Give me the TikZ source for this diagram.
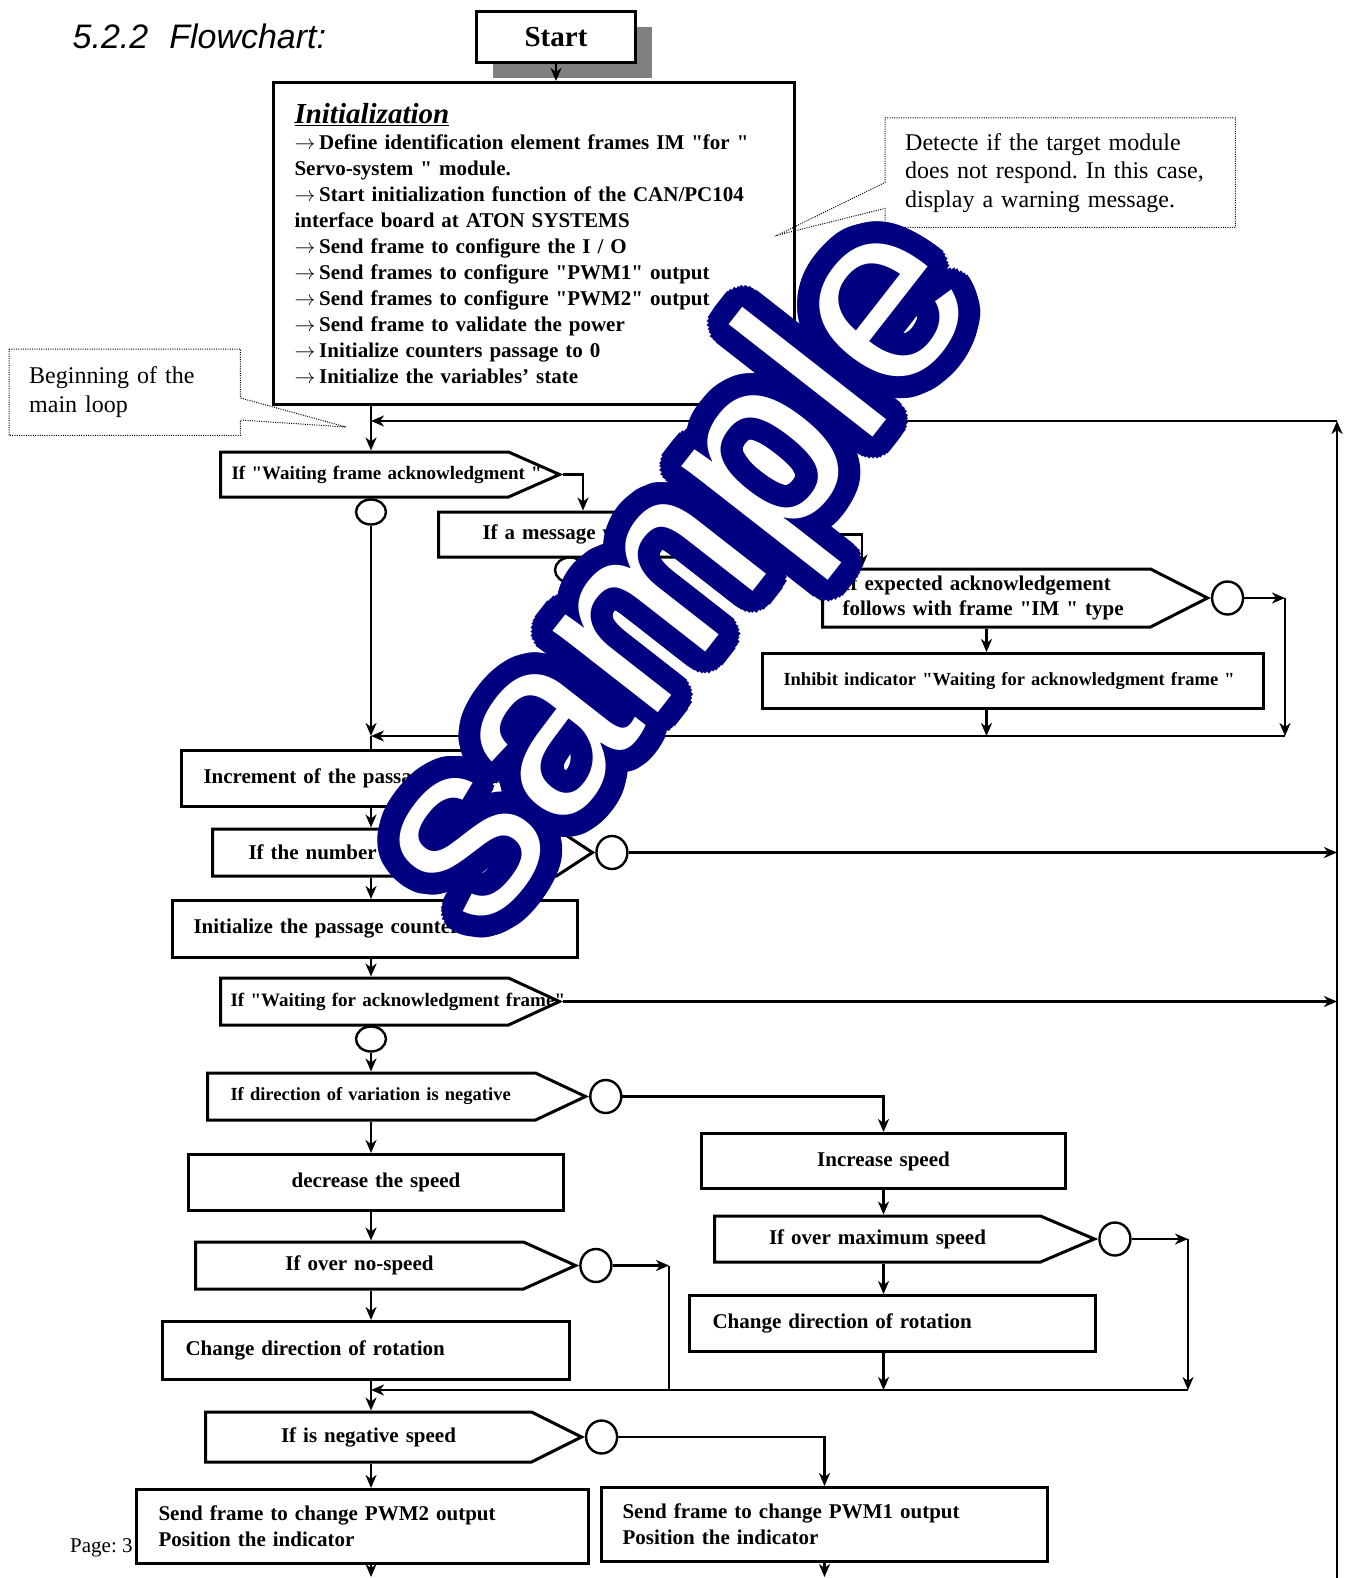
\documentclass[tikz,border=0pt]{standalone}
\usepackage{fontspec}
\setmainfont{Liberation Serif}[Ligatures=TeXOff]
\newfontfamily\headfont{Liberation Sans}
\usetikzlibrary{arrows.meta,positioning,shapes.geometric,shapes.symbols,shadows}
\frenchspacing

\definecolor{shadowgray}{RGB}{128,128,128}
\definecolor{marknavy}{RGB}{0,0,128}
\newcommand{\fs}[2]{\fontsize{#1}{#2}\selectfont}
\newcommand{\itemarrow}{$\rightarrow$\hspace{4pt}}

\begin{document}
\begin{tikzpicture}[
    x=1pt, y=-1pt,
    box/.style={draw, line width=3pt, fill=white, inner ysep=2pt, align=left, anchor=north west, font=\bfseries\fs{21}{26}},
    decision/.style={signal, signal to=east, draw, line width=3pt, fill=white, inner ysep=2pt, align=left, anchor=west, font=\bfseries\fs{21}{25}},
    knot/.style={ellipse, draw, line width=2.4pt, fill=white, inner sep=0pt, minimum width=30pt, minimum height=25pt},
    tipknot/.style={knot, minimum width=31pt, minimum height=33pt, anchor=west},
    note/.style={align=left, inner xsep=20pt, inner ysep=0pt, anchor=north west, font=\fs{24}{28.5}},
    notebox/.style={line width=1pt, dash pattern=on 1pt off 1.3pt},
    flow/.style={-{Stealth[length=13pt, width=11pt, inset=4pt]}, line width=2.4pt},
    plainline/.style={line width=2.4pt},
    stamp/.style={rotate=52, inner sep=0pt, font=\headfont\fs{252}{252}}
]
\useasboundingbox (0,0) rectangle (1347,1578);

\node[anchor=base west, inner sep=0pt, font=\headfont\itshape\fs{34}{40}] (title) at (72.5,48.3) {5.2.2\hspace{21pt}Flowchart:};

% start and initialization
\node[box, align=center, minimum width=159pt, minimum height=51pt, font=\bfseries\fs{29}{32},
      drop shadow={shadow xshift=16pt, shadow yshift=-16pt, fill=shadowgray, opacity=1}] (start) at (475,10) {Start};
\node[box, text width=479pt, inner xsep=21pt, minimum height=322pt] (init) at (272,81) {%
{\fs{29}{30}\bfseries\itshape\underline{Initialization}}\\
\itemarrow Define identification element frames IM "for "\\
Servo-system " module.\\
\itemarrow Start initialization function of the CAN/PC104\\
interface board at ATON SYSTEMS\\
\itemarrow Send frame to configure the I / O\\
\itemarrow Send frames to configure "PWM1" output\\
\itemarrow Send frames to configure "PWM2" output\\
\itemarrow Send frame to validate the power\\
\itemarrow Initialize counters passage to 0\\
\itemarrow Initialize the variables’ state};

% acknowledgment part of the loop
\node[decision, signal pointer angle=47.6, text width=266pt, inner xsep=11pt, minimum height=45pt, font=\bfseries\fs{19}{23}] (waitframe) at (219,474.5) {\mbox{If "Waiting frame acknowledgment "}};
\node[decision, signal pointer angle=53.1, text width=208pt, inner xsep=44pt, minimum height=45pt] (msg) at (437,534.5) {\mbox{If a message was received}};
\node[decision, signal pointer angle=53.9, text width=288pt, inner xsep=20pt, minimum height=58pt] (ackim) at (821,598) {If expected acknowledgement\\follows with frame "IM " type};
\node[box, text width=459pt, inner xsep=21pt, minimum height=55pt, font=\bfseries\fs{18.5}{22}] (inhibit) at (761,652) {Inhibit indicator "Waiting for acknowledgment frame "};
\node[knot] (o1) at (371,512) {};
\node[knot] (o2) at (570,570) {};
\node[tipknot] (o3) at (ackim.east) {};

% passage counter
\node[box, text width=337pt, inner xsep=22pt, minimum height=56pt] (incr) at (180,749) {Increment of the passage counter};
\node[decision, signal pointer angle=66.3, text width=272pt, inner xsep=36pt, minimum height=47pt] (reached) at (211,852.5) {If the number is reached};
\node[tipknot] (o4) at (reached.east) {};
\node[box, text width=363pt, inner xsep=21pt, minimum height=57pt] (reset) at (171,899) {Initialize the passage counter to 0};
\node[decision, signal pointer angle=49.5, text width=268pt, inner xsep=10pt, minimum height=47pt, font=\bfseries\fs{19}{23}] (waitack) at (219,1001.5) {\mbox{If "Waiting for acknowledgment frame"}};
\node[knot] (o5) at (371,1039) {};

% speed variation
\node[decision, signal pointer angle=50.3, text width=282pt, inner xsep=23pt, minimum height=47pt, font=\bfseries\fs{18.5}{22}] (negdir) at (206,1096.5) {If direction of variation is negative};
\node[tipknot] (o6) at (negdir.east) {};
\node[box, align=center, text width=355pt, inner xsep=10pt, minimum height=56pt] (decspeed) at (187,1153) {decrease the speed};
\node[decision, align=center, signal pointer angle=48.6, text width=308pt, inner xsep=10pt, minimum height=47pt] (nospeed) at (194,1265.5) {If over no-speed};
\node[tipknot] (o7) at (nospeed.east) {};
\node[box, text width=361pt, inner xsep=23pt, minimum height=58pt] (chleft) at (161,1320) {Change direction of rotation};
\node[box, align=center, text width=344pt, inner xsep=10pt, minimum height=55pt] (incspeed) at (700,1132) {Increase speed};
\node[decision, align=center, signal pointer angle=46.2, text width=306pt, inner xsep=10pt, minimum height=46pt] (maxspeed) at (713,1239) {If over maximum speed};
\node[tipknot] (o8) at (maxspeed.east) {};
\node[box, text width=360pt, inner xsep=23pt, minimum height=56pt] (chright) at (688,1294) {Change direction of rotation};

% outputs
\node[decision, align=center, signal pointer angle=53.1, text width=306pt, inner xsep=10pt, minimum height=50pt] (negspeed) at (204,1437) {If is negative speed};
\node[tipknot] (o9) at (negspeed.east) {};
\node[anchor=base west, inner sep=0pt, font=\fs{21}{25}] (page) at (70,1552) {Page: 3};
\node[box, text width=408pt, inner xsep=22pt, minimum height=74pt] (pwmtwo) at (135,1488) {Send frame to change PWM2 output\\Position the indicator};
\node[box, text width=404pt, inner xsep=21pt, minimum height=74pt] (pwmone) at (600,1486) {Send frame to change PWM1 output\\Position the indicator};

% junctions
\coordinate (jtop) at (371,421);
\coordinate (rtop) at (1337,421);
\coordinate (rbot) at (1337,1578);
\coordinate (jmid) at (371,736);
\coordinate (jlow) at (371,1390);
\coordinate (waitturn) at (583,474.5);
\coordinate (msgturn) at (862,534.5);
\coordinate (ackturn) at (1285,598);
\coordinate (ackdown) at (1285,736);
\coordinate (noturn) at (669,1265.5);
\coordinate (nodown) at (669,1390);
\coordinate (maxturn) at (1188,1239);
\coordinate (maxdown) at (1188,1390);

\draw[flow] (start.south) -- (start.south |- init.north);
\draw[flow] (init.south -| jtop) -- (waitframe.north -| jtop);
\draw[flow] (rbot) -- (rtop);
\draw[flow] (rtop) -- (jtop);
\draw[flow] (waitframe.east) -- (waitturn) -- (waitturn |- msg.north);
\draw[flow] (o1) -- (jmid);
\draw[flow] (msg.east) -- (msgturn) -- (msgturn |- ackim.north);
\draw[flow] (o2) -- (o2 |- jmid);
\draw[flow] (o3) -- (ackturn);
\draw[flow] (ackturn) -- (ackdown);
\draw[flow] (ackim.south) -- (ackim.south |- inhibit.north);
\draw[flow] (ackim.south |- inhibit.south) -- (ackim.south |- jmid);
\draw[flow] (ackdown) -- (jmid);
\draw[plainline] (jmid) -- (jmid |- incr.north);
\draw[flow] (incr.south -| jmid) -- (reached.north -| jmid);
\draw[flow] (o4) -- (o4 -| rtop);
\draw[flow] (reached.south -| jmid) -- (reset.north -| jmid);
\draw[flow] (reset.south -| jmid) -- (waitack.north -| jmid);
\draw[flow] (waitack.east) -- (waitack.east -| rtop);
\draw[flow] (o5) -- (negdir.north -| o5);
\draw[flow] (o6) -| (incspeed.north);
\draw[flow] (negdir.south -| jmid) -- (decspeed.north -| jmid);
\draw[flow] (decspeed.south -| jmid) -- (nospeed.north -| jmid);
\draw[flow] (o7) -- (noturn);
\draw[plainline] (noturn) -- (nodown);
\draw[flow] (nospeed.south -| jmid) -- (chleft.north -| jmid);
\draw[flow] (incspeed.south) -- (incspeed.south |- maxspeed.north);
\draw[flow] (o8) -- (maxturn);
\draw[flow] (maxturn) -- (maxdown);
\draw[flow] (incspeed.south |- maxspeed.south) -- (incspeed.south |- chright.north);
\draw[flow] (incspeed.south |- chright.south) -- (incspeed.south |- maxdown);
\draw[flow] (maxdown) -- (jlow);
\draw[flow] (chleft.south -| jmid) -- (negspeed.north -| jmid);
\draw[flow] (o9) -| (pwmone.north);
\draw[flow] (negspeed.south -| jmid) -- (pwmtwo.north -| jmid);
\draw[flow] (pwmtwo.south -| jmid) -- ([yshift=1pt]jmid |- rbot);
\draw[flow] (pwmone.south) -- ([yshift=1pt]pwmone.south |- rbot);

% callouts
\node[note, text width=310pt, minimum width=350pt, minimum height=109pt] (notetarget) at (885,118) {Detecte if the target module\\does not respond. In this case,\\display a warning message.};
\coordinate (targettip) at (778,235);
\draw[notebox] (notetarget.south west) -- ([yshift=19pt]notetarget.south west) -- (targettip) -- ([yshift=45pt]notetarget.south west) -- (notetarget.north west) -- (notetarget.north east) -- (notetarget.south east) -- cycle;
\node[note, text width=191pt, minimum width=231pt, minimum height=86pt] (noteloop) at (9,349) {Beginning of the\\main loop};
\coordinate (looptip) at (346,427);
\draw[notebox] (noteloop.north west) -- (noteloop.north east) -- ([yshift=-49pt]noteloop.north east) -- (looptip) -- ([yshift=-71pt]noteloop.north east) -- (noteloop.south east) -- (noteloop.south west) -- cycle;

% watermark: navy rim, white letters on top
\foreach \a in {0,10,...,350}
  \node[stamp, text=marknavy, xshift={22*cos(\a)}, yshift={22*sin(\a)}] at (682,576) {sample};
\node[stamp, text=white] (stampword) at (682,576) {sample};
\end{tikzpicture}
\end{document}
